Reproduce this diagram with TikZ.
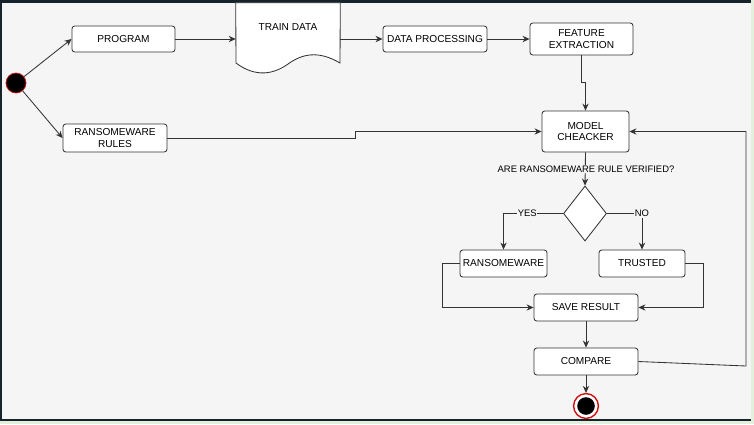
\documentclass[tikz,border=0pt]{standalone}
\usepackage{fontspec}
\setmainfont{Liberation Sans}
\usetikzlibrary{shapes.geometric, arrows.meta, positioning, calc}

\definecolor{bggray}{HTML}{F5F5F5}
\definecolor{linegray}{HTML}{333333}
\definecolor{topband}{HTML}{17232B}
\definecolor{framegreen}{HTML}{E4F0DC}
\definecolor{ringred}{HTML}{D01010}

\newcommand{\boxfont}{\fontsize{7.2}{8.4}\selectfont}
\newcommand{\smallboxfont}{\fontsize{6.7}{8}\selectfont}

\begin{document}
\begin{tikzpicture}[x=0.025cm, y=-0.025cm,
            box/.style={rectangle, rounded corners=2pt, draw=linegray, fill=white, line width=0.6pt, font=\boxfont, minimum height=0.675cm, inner sep=1pt, align=center},
            decision/.style={diamond, draw=linegray, fill=white, line width=0.6pt, inner sep=0pt, minimum width=1.075cm, minimum height=1.375cm},
            arrow/.style={-{Stealth[length=5pt,width=4.5pt]}, draw=linegray, line width=0.6pt},
            tag/.style={font=\smallboxfont, fill=bggray, inner sep=0.5pt}
        ]

% Frame and background
            \useasboundingbox (0,0) rectangle (754,424);
            \fill[framegreen] (0,0) rectangle (754,424);
            \fill[topband] (0,0) rectangle (751,421);
            \fill[bggray] (2,3) rectangle (751,419);

% Activity nodes
            \node[circle, draw=ringred, fill=black, line width=0.5pt, minimum size=0.5cm, inner sep=0pt] (start) at (16,83) {};
            \node[box, minimum width=2.575cm, minimum height=0.65cm] (program) at (123.5,39) {PROGRAM};
            \node[minimum width=2.6cm, minimum height=1.5cm, inner sep=0pt] (train) at (288,33) {};
            \node[box, minimum width=2.6cm, minimum height=0.65cm] (dataproc) at (435,39) {DATA PROCESSING};
            \node[box, minimum width=2.575cm, minimum height=0.8cm] (feature) at (581.5,39) {FEATURE\\EXTRACTION};
            \node[box, minimum width=2.6cm, minimum height=0.7cm] (rules) at (115,138) {RANSOMEWARE\\RULES};
            \node[box, minimum width=2.175cm, minimum height=1.025cm] (model) at (585.5,131.5) {MODEL\\CHEACKER};
            \node[decision] (decide) at (585,213.5) {};
            \node[box, minimum width=2.175cm] (ransom) at (503.5,263.5) {RANSOMEWARE};
            \node[box, minimum width=2.15cm] (trusted) at (642,263.5) {TRUSTED};
            \node[box, minimum width=2.6cm] (save) at (586,307.5) {SAVE RESULT};
            \node[box, minimum width=2.6cm] (compare) at (586,361.5) {COMPARE};
            \node[circle, draw=ringred, fill=white, line width=1pt, minimum size=0.62cm, inner sep=0pt] (finish) at (586,406) {};
            \fill[black] (finish.center) circle (0.22cm);

% Train data document shape
            \draw[linegray, fill=white, line width=0.6pt] (train.north west) -- (train.north east) -- (340,63)
                .. controls (318,50) and (302,54) .. (288,64)
                .. controls (274,74) and (256,78) .. (236,63) -- cycle;
            \node[font=\boxfont] (traintext) at (288,27) {TRAIN DATA};

% Flow connections
            \draw[arrow] (start) -- (program.west);
            \draw[arrow] (start) -- (rules.west);
            \draw[arrow] (program.east) -- (program.east -| train.west);
            \draw[arrow] (dataproc.west -| train.east) -- (dataproc.west);
            \draw[arrow] (dataproc) -- (feature);
            \draw[arrow] (feature.south) -- ++(0,27) -| (model.north);
            \draw[arrow] (rules.east) -- ++(188,0) |- (model.west);
            \draw[arrow] (model.south) -- (decide.north);
            \node[tag] (question) at (586,169) {ARE RANSOMEWARE RULE VERIFIED?};
            \draw[arrow] (decide.west) -| node[tag, pos=0.3] (yes) {YES} (ransom.north);
            \draw[arrow] (decide.east) -| node[tag, pos=0.5] (no) {NO} (trusted.north);
            \draw[arrow] (ransom.west) -- ++(-17,0) |- (save.west);
            \draw[arrow] (trusted.east) -- ++(18,0) |- (save.east);
            \draw[arrow] (save) -- (compare);
            \draw[arrow] (compare) -- (finish);

% Loop back to the checker
            \coordinate (loopcorner) at (746,366);
            \draw[arrow] (compare.east) -- (loopcorner) |- (model.east);

        \end{tikzpicture}
\end{document}
